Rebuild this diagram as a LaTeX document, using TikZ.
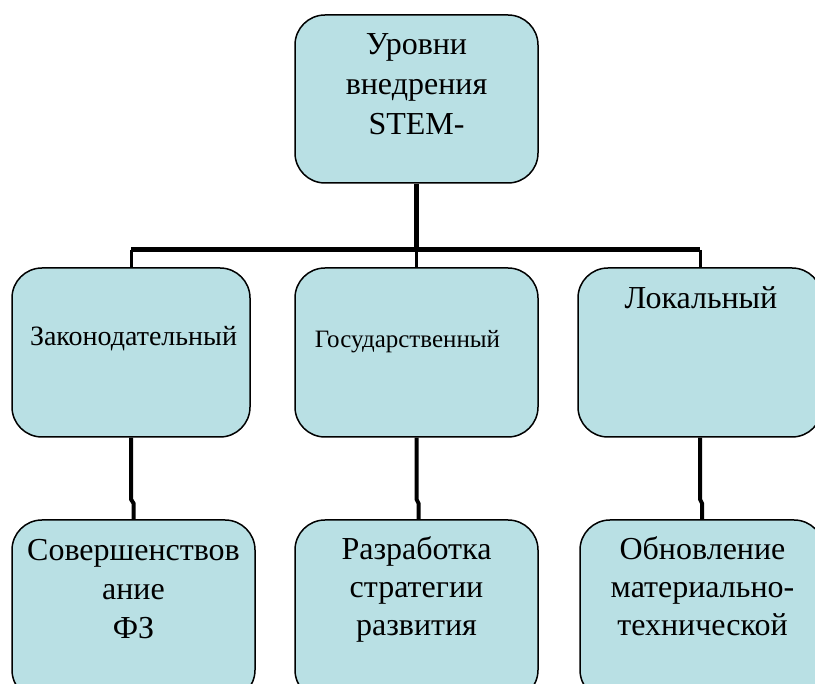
\documentclass[tikz,border=0pt]{standalone}
\usepackage{fontspec}
\setmainfont{Liberation Serif}
\definecolor{boxfill}{RGB}{185,224,228}
\newcommand{\btxt}[3]{\parbox[t]{236pt}{\centering\fontsize{#1}{#2}\selectfont #3}}
\begin{document}
\begin{tikzpicture}[x=1pt,y=-1pt,
  box/.style={draw=black, line width=1.5pt, fill=boxfill, rounded corners=30pt, inner sep=0pt},
  label/.style={anchor=base, inner sep=0pt},
  busline/.style={line width=5pt},
  drop/.style={line width=3pt},
  lower/.style={line width=4pt}]
\useasboundingbox (0,0) rectangle (815,684);
\clip (0,0) rectangle (815,684);
% boxes
\node[box, minimum width=243pt, minimum height=168pt] (top) at (416.5,99) {};
\node[box, minimum width=238pt, minimum height=169pt] (mL) at (131,352.5) {};
\node[box, minimum width=243pt, minimum height=169pt] (mC) at (416.5,352.5) {};
\node[box, minimum width=244pt, minimum height=169pt] (mR) at (700,352.5) {};
\node[box, minimum width=243pt, minimum height=180pt] (bL) at (133.5,610) {};
\node[box, minimum width=243pt, minimum height=180pt] (bC) at (416.5,610) {};
\node[box, minimum width=244pt, minimum height=180pt] (bR) at (702,610) {};
% connectors
\coordinate (bus) at (416.5,250);
\draw[busline] (top.south) -- (bus);
\draw[busline] (mL.north |- bus) -- (mR.north |- bus);
\draw[drop] (mL.north |- bus) -- (mL.north);
\draw[drop] (mC.north |- bus) -- (mC.north);
\draw[drop] (mR.north |- bus) -- (mR.north);
\draw[lower] (mL.south) -- ([yshift=20pt]bL.north -| mL.south) -- ([yshift=16pt]bL.north) -- (bL.north);
\draw[lower] (mC.south) -- ([yshift=20pt]bC.north -| mC.south) -- ([yshift=16pt,xshift=2pt]bC.north) -- ([xshift=2pt]bC.north);
\draw[lower] (mR.south) -- ([yshift=20pt]bR.north -| mR.south) -- ([yshift=16pt]bR.north) -- (bR.north);
% texts
\node[label] (t0) at (416.5,55) {\btxt{32}{40}{Уровни\\внедрения\\STEM-}};
\node[label] (t1) at (133.5,346) {\btxt{28}{32}{Законодательный}};
\node[label] (t2) at (407.5,348) {\btxt{25}{30}{Государственный}};
\node[label] (t3) at (701,309) {\btxt{32}{36}{Локальный}};
\node[label] (t4) at (133.5,561) {\btxt{32}{39}{Совершенствов\\ание\\ФЗ}};
\node[label] (t5) at (416.5,560) {\btxt{32}{38}{Разработка\\стратегии\\развития}};
\node[label] (t6) at (702.5,560) {\btxt{32}{38}{Обновление\\материально-\\технической}};
\end{tikzpicture}
\end{document}
